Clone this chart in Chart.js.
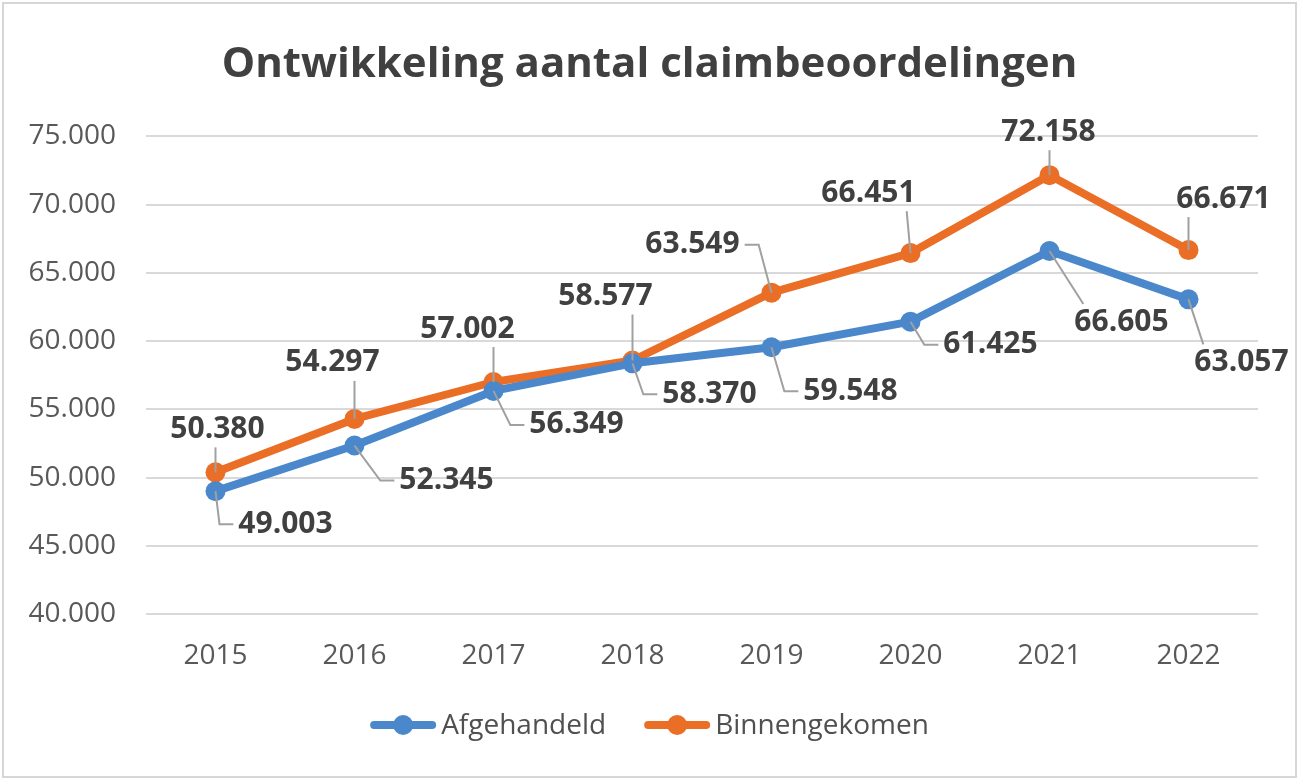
<!DOCTYPE html>
<html>
<head>
<meta charset="utf-8">
<script src="https://cdn.jsdelivr.net/npm/chart.js@4"></script>
<style>
  html, body { margin: 0; padding: 0; background: #fff; }
  #wrap { width: 1299px; height: 780px; position: relative; }
</style>
</head>
<body>
<div id="wrap"><canvas id="chart" width="1299" height="780"></canvas></div>
<script>
const years = ['2015', '2016', '2017', '2018', '2019', '2020', '2021', '2022']
const afgehandeld = [49003, 52345, 56349, 58370, 59548, 61425, 66605, 63057]
const binnengekomen = [50380, 54297, 57002, 58577, 63549, 66451, 72158, 66671]
const yMin = 40000
const yMax = 75000
const yStep = 5000

// where each data label sits, relative to its point (px)
const labelOffsets = [
  [[70, 33], [92, 35], [83, 34], [77, 31], [79, 44], [80, 23], [72, 71], [53, 63]],
  [[2, -43], [-22, -56], [-26, -53], [-27, -64], [-79, -48], [-42, -60], [-1, -43], [35, -51]]
]

const blue = '#4a88cb'
const orange = '#eb6e26'
const fmt = v => String(Math.round(v)).replace(/\B(?=(\d{3})+(?!\d))/g, '.')

const frame = {
  id: 'frame',
  beforeDraw(chart) {
    const ctx = chart.ctx
    ctx.save()
    ctx.fillStyle = '#fff'
    ctx.fillRect(0, 0, chart.width, chart.height)
    ctx.strokeStyle = '#d6d6d6'
    ctx.lineWidth = 2
    ctx.strokeRect(3, 3, chart.width - 6, chart.height - 6)
    ctx.restore()
  }
}

const dataLabels = {
  id: 'dataLabels',
  afterDatasetsDraw(chart) {
    const ctx = chart.ctx
    ctx.save()
    ctx.font = 'bold 30px "Open Sans"'
    ctx.textAlign = 'center'
    ctx.textBaseline = 'middle'
    chart.data.datasets.forEach((ds, di) => {
      const meta = chart.getDatasetMeta(di)
      meta.data.forEach((pt, i) => {
        const [dx, dy] = labelOffsets[di][i]
        const text = fmt(ds.data[i])
        const cx = pt.x + dx
        const cy = pt.y + dy
        const hw = ctx.measureText(text).width / 2 + 5
        const hh = 18
        const left = cx - hw, right = cx + hw, top = cy - hh, bottom = cy + hh
        ctx.strokeStyle = '#a0a0a0'
        ctx.lineWidth = 2
        ctx.beginPath()
        if (left > pt.x + 4 && Math.abs(dy) < 50) {
          const ex = Math.max(pt.x + 4, left - 14)
          ctx.moveTo(pt.x, pt.y)
          ctx.lineTo(ex, cy)
          ctx.lineTo(left, cy)
        } else if (right < pt.x - 4) {
          const ex = Math.min(pt.x - 4, right + 14)
          ctx.moveTo(pt.x, pt.y)
          ctx.lineTo(ex, cy)
          ctx.lineTo(right, cy)
        } else {
          const nx = Math.min(Math.max(pt.x, left + 14), right - 14)
          const ny = Math.min(Math.max(pt.y, top), bottom)
          if (Math.hypot(nx - pt.x, ny - pt.y) > 12) {
            ctx.moveTo(pt.x, pt.y)
            ctx.lineTo(nx, ny)
          }
        }
        ctx.stroke()
        ctx.fillStyle = '#404040'
        ctx.fillText(text, cx, cy)
      })
    })
    ctx.restore()
  }
}

// legend: line + dot symbol followed by the series name, centred under the chart
const lineLegend = {
  id: 'lineLegend',
  afterDraw(chart) {
    const ctx = chart.ctx
    const y = 725
    const symW = 66, symGap = 5, itemGap = 38
    ctx.save()
    ctx.font = '28px "Open Sans"'
    ctx.textBaseline = 'middle'
    const items = chart.data.datasets.map(ds => ({ ds, w: ctx.measureText(ds.label).width }))
    const total = items.reduce((s, it) => s + symW + symGap + it.w, 0) + itemGap * (items.length - 1)
    let x = chart.width / 2 - total / 2
    items.forEach(({ ds, w }) => {
      ctx.strokeStyle = ds.borderColor
      ctx.lineWidth = 8
      ctx.lineCap = 'round'
      ctx.beginPath()
      ctx.moveTo(x + 4, y)
      ctx.lineTo(x + symW - 4, y)
      ctx.stroke()
      ctx.fillStyle = ds.borderColor
      ctx.beginPath()
      ctx.arc(x + symW / 2, y, 10, 0, Math.PI * 2)
      ctx.fill()
      ctx.fillStyle = '#505050'
      ctx.fillText(ds.label, x + symW + symGap, y + 1)
      x += symW + symGap + w + itemGap
    })
    ctx.restore()
  }
}

new Chart(document.getElementById('chart'), {
  type: 'line',
  data: {
    labels: years,
    datasets: [
      { label: 'Afgehandeld', data: afgehandeld, borderColor: blue, backgroundColor: blue },
      { label: 'Binnengekomen', data: binnengekomen, borderColor: orange, backgroundColor: orange }
    ]
  },
  options: {
    responsive: false,
    animation: false,
    events: [],
    layout: { padding: { left: 0, right: 0, top: 0, bottom: 78 } },
    elements: {
      line: { borderWidth: 8, tension: 0, borderCapStyle: 'round', borderJoinStyle: 'round' },
      point: { radius: 10, borderWidth: 0, pointStyle: 'circle' }
    },
    plugins: {
      title: {
        display: true,
        text: 'Ontwikkeling aantal claimbeoordelingen',
        color: '#404040',
        font: { family: '"Open Sans"', size: 42, weight: 'bold', lineHeight: 1.2 },
        padding: { top: 40, bottom: 46 }
      },
      legend: { display: false },
      tooltip: { enabled: false }
    },
    scales: {
      x: {
        offset: true,
        grid: { display: false },
        border: { display: false },
        ticks: { color: '#595959', font: { family: '"Open Sans"', size: 28 }, padding: 17 },
        afterFit(s) { s.height = 88 }
      },
      y: {
        min: yMin,
        max: yMax,
        grid: { color: '#d9d9d9', lineWidth: 2, drawTicks: false },
        border: { display: false },
        ticks: {
          stepSize: yStep,
          color: '#595959',
          font: { family: '"Open Sans"', size: 28 },
          padding: 30,
          callback: v => fmt(v)
        },
        afterFit(s) { s.width = 146 }
      },
      // empty right-hand strip so the plot ends where the reference does
      yRight: {
        position: 'right',
        grid: { display: false },
        border: { display: false },
        ticks: { display: false },
        afterFit(s) { s.width = 41 }
      }
    }
  },
  plugins: [frame, dataLabels, lineLegend]
})
</script>
</body>
</html>
